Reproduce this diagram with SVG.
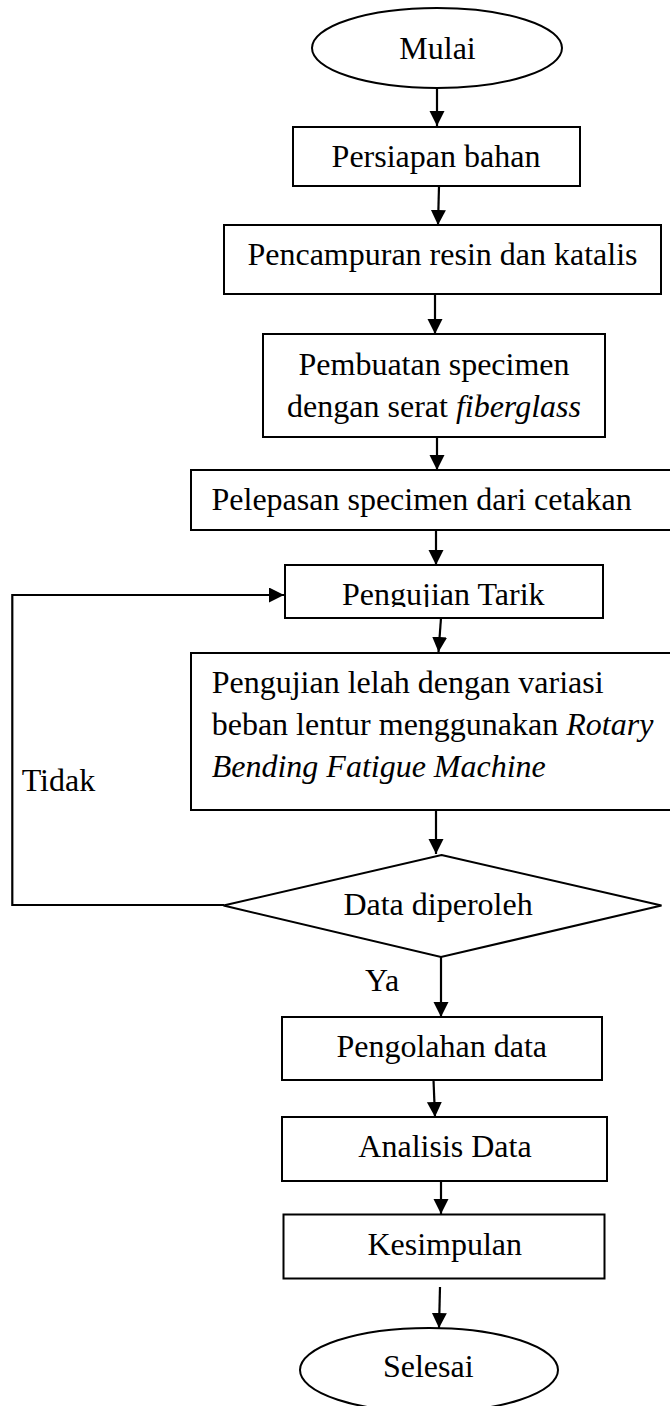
<svg xmlns="http://www.w3.org/2000/svg" width="670" height="1406" viewBox="0 0 670 1406">
<style>
.s{fill:#fff;stroke:#000;stroke-width:2}
.t{font-family:"Liberation Serif","Times New Roman",serif;font-size:32px;fill:#000}
.c{text-anchor:middle}
.i{font-style:italic}
.l{fill:none;stroke:#000;stroke-width:2.2}
</style>
<defs>
<marker id="ah" markerUnits="userSpaceOnUse" markerWidth="16" markerHeight="16" refX="15" refY="7.5" orient="auto" viewBox="0 0 16 16">
<path d="M0,0 L15,7.5 L0,15 z" fill="#000"/>
</marker>
<clipPath id="clipTarik"><rect x="285" y="565" width="318" height="42"/></clipPath>
</defs>
<rect width="670" height="1406" fill="#fff"/>
<g id="mulai"><ellipse class="s" cx="437" cy="48" rx="125" ry="40"/><text class="t c" x="437.5" y="59">Mulai</text></g>
<g id="persiapan"><rect class="s" x="293" y="127" width="287" height="59"/><text class="t c" x="436" y="167">Persiapan bahan</text></g>
<g id="pencampuran"><rect class="s" x="224" y="225" width="437" height="69"/><text class="t c" x="442.5" y="265">Pencampuran resin dan katalis</text></g>
<g id="pembuatan"><rect class="s" x="263" y="334" width="342" height="103"/><text class="t c" x="434" y="375">Pembuatan specimen</text><text class="t c" x="434" y="417">dengan serat <tspan class="i">fiberglass</tspan></text></g>
<g id="pelepasan"><rect class="s" x="191" y="470" width="490" height="60"/><text class="t" x="211.5" y="510">Pelepasan specimen dari cetakan</text></g>
<g id="tarik"><rect class="s" x="285" y="565" width="318" height="53"/><text class="t c" x="443.3" y="605" clip-path="url(#clipTarik)">Pengujian Tarik</text></g>
<g id="lelah"><rect class="s" x="191" y="653" width="490" height="157"/><text class="t" x="211.7" y="693">Pengujian lelah dengan variasi</text><text class="t" x="211.7" y="735">beban lentur menggunakan <tspan class="i">Rotary</tspan></text><text class="t i" x="211.7" y="777">Bending Fatigue Machine</text></g>
<g id="keputusan"><polygon class="s" points="441.5,855 661.5,905.5 441,957 223.5,905.5"/><text class="t c" x="438" y="915">Data diperoleh</text></g>
<g id="pengolahan"><rect class="s" x="282" y="1017" width="320" height="63"/><text class="t c" x="441.7" y="1056.7">Pengolahan data</text></g>
<g id="analisis"><rect class="s" x="282" y="1117" width="325" height="64"/><text class="t c" x="445" y="1156.7">Analisis Data</text></g>
<g id="kesimpulan"><rect class="s" x="283.5" y="1214.5" width="321" height="64"/><text class="t c" x="444.7" y="1255">Kesimpulan</text></g>
<g id="selesai"><ellipse class="s" cx="429" cy="1370" rx="129" ry="42"/><text class="t c" x="428.3" y="1376.7">Selesai</text></g>
<g id="connectors">
<line class="l" x1="437" y1="88" x2="437" y2="126" marker-end="url(#ah)"/>
<line class="l" x1="439" y1="186" x2="438" y2="225" marker-end="url(#ah)"/>
<line class="l" x1="435" y1="294" x2="435" y2="334" marker-end="url(#ah)"/>
<line class="l" x1="437" y1="437" x2="437" y2="470" marker-end="url(#ah)"/>
<line class="l" x1="436" y1="530" x2="436" y2="565" marker-end="url(#ah)"/>
<line class="l" x1="441" y1="618" x2="438.5" y2="652" marker-end="url(#ah)"/>
<line class="l" x1="436" y1="810" x2="436" y2="854" marker-end="url(#ah)"/>
<line class="l" x1="441" y1="957" x2="441" y2="1017" marker-end="url(#ah)"/>
<line class="l" x1="433.5" y1="1080" x2="435" y2="1117" marker-end="url(#ah)"/>
<line class="l" x1="441" y1="1181" x2="441" y2="1214" marker-end="url(#ah)"/>
<line class="l" x1="440" y1="1287" x2="439" y2="1328" marker-end="url(#ah)"/>
<polyline class="l" points="224,905 12.3,905 12.3,595 284,595" marker-end="url(#ah)"/>
<text class="t" x="21.7" y="790.7">Tidak</text>
<text class="t" x="365" y="990.7">Ya</text>
</g>
</svg>
